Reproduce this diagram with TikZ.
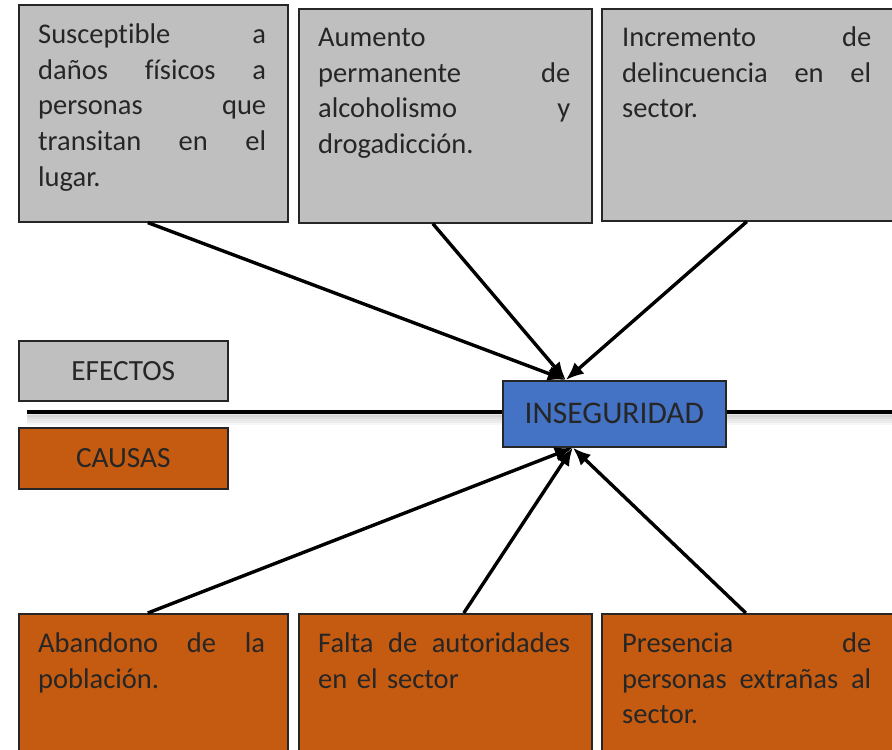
\documentclass[tikz,border=0pt]{standalone}
\usepackage{fontspec}
\setmainfont{Carlito}[Ligatures=NoCommon]
\usetikzlibrary{arrows.meta}
\definecolor{boxgray}{HTML}{BFBFBF}
\definecolor{causeor}{HTML}{C55A11}
\definecolor{insblue}{HTML}{4472C4}
\begin{document}
\begin{tikzpicture}[x=1pt,y=-1pt,
  basebox/.style={draw=black!85, line width=1.6pt, inner sep=0pt, anchor=north west},
  effbox/.style={basebox, fill=boxgray},
  causebox/.style={basebox, fill=causeor},
  txt/.style={anchor=north west, inner sep=0pt, align=left, text=black!85,
    font=\fontsize{28.5}{35.8}\selectfont},
  lbl/.style={inner sep=0pt, text=black!85, font=\fontsize{29.3}{34}\selectfont},
  arr/.style={line width=3.4pt, -{Latex[length=18pt,width=15pt]}}
]
\useasboundingbox (0,0) rectangle (892,750);

% top effect boxes
\node[effbox, minimum width=269pt, minimum height=217pt] (e1) at (18,4) {};
\node[effbox, minimum width=293pt, minimum height=214pt] (e2) at (298,8) {};
\node[effbox, minimum width=300pt, minimum height=212pt] (e3) at (601,8) {};

\node[txt, text width=228pt] (t1) at (38,18) {\strut Susceptible\hfill a\\daños\hfill físicos\hfill a\\personas\hfill que\\transitan\hfill en\hfill el\\lugar.};
\node[txt, text width=252pt] (t2) at (318,21) {\strut Aumento\\permanente\hfill de\\alcoholismo\hfill y\\drogadicción.};
\node[txt, text width=249pt] (t3) at (622,21) {\strut Incremento\hfill de\\delincuencia\hfill en\hfill el\\sector.};

% labels
\node[effbox, minimum width=209pt, minimum height=60pt] (ef) at (18,340) {};
\node[lbl] (eft) at (ef.center) {EFECTOS};
\node[causebox, minimum width=209pt, minimum height=61pt] (ca) at (18,427) {};
\node[lbl] (cat) at (ca.center) {CAUSAS};

% spine with shadow
\coordinate (L) at (27,412);
\coordinate (R) at (892,412);
\foreach \d/\o in {3/0.10,5/0.08,7/0.06,9/0.04,11/0.03}{
  \draw[line width=4pt, black, opacity=\o] ([yshift=-\d pt]L) -- ([yshift=-\d pt]R);
}
\draw[line width=4.5pt] (L) -- (R);

% central problem
\node[basebox, fill=insblue, minimum width=223pt, minimum height=66pt] (ins) at (502,380) {};
\node[lbl, font=\fontsize{31.5}{36}\selectfont] (inst) at (ins.center) {INSEGURIDAD};

% bottom cause boxes
\node[causebox, minimum width=269pt, minimum height=150pt] (c1) at (18,613) {};
\node[causebox, minimum width=293pt, minimum height=150pt] (c2) at (298,613) {};
\node[causebox, minimum width=300pt, minimum height=150pt] (c3) at (601,613) {};

\node[txt, text width=227pt] (t4) at (38,627) {\strut Abandono\hfill de\hfill la\\población.};
\node[txt, text width=252pt] (t5) at (318,627) {\strut Falta\hfill de\hfill autoridades\\en el sector};
\node[txt, text width=249pt] (t6) at (622,627) {\strut Presencia\hfill de\\personas\hfill extrañas\hfill al\\sector.};

% arrows
\draw[arr] ([xshift=-5.5pt]e1.south) -- ([xshift=-48.5pt]ins.north);
\draw[arr] ([xshift=-12.5pt]e2.south) -- ([xshift=-48.5pt]ins.north);
\draw[arr] ([xshift=-5pt]e3.south) -- ([xshift=-48.5pt]ins.north);
\draw[arr] ([xshift=-5.5pt]c1.north) -- ([xshift=-41.5pt]ins.south);
\draw[arr] ([xshift=18.5pt]c2.north) -- ([xshift=-41.5pt]ins.south);
\draw[arr] ([xshift=-6pt]c3.north) -- ([xshift=-41.5pt]ins.south);
\end{tikzpicture}
\end{document}
